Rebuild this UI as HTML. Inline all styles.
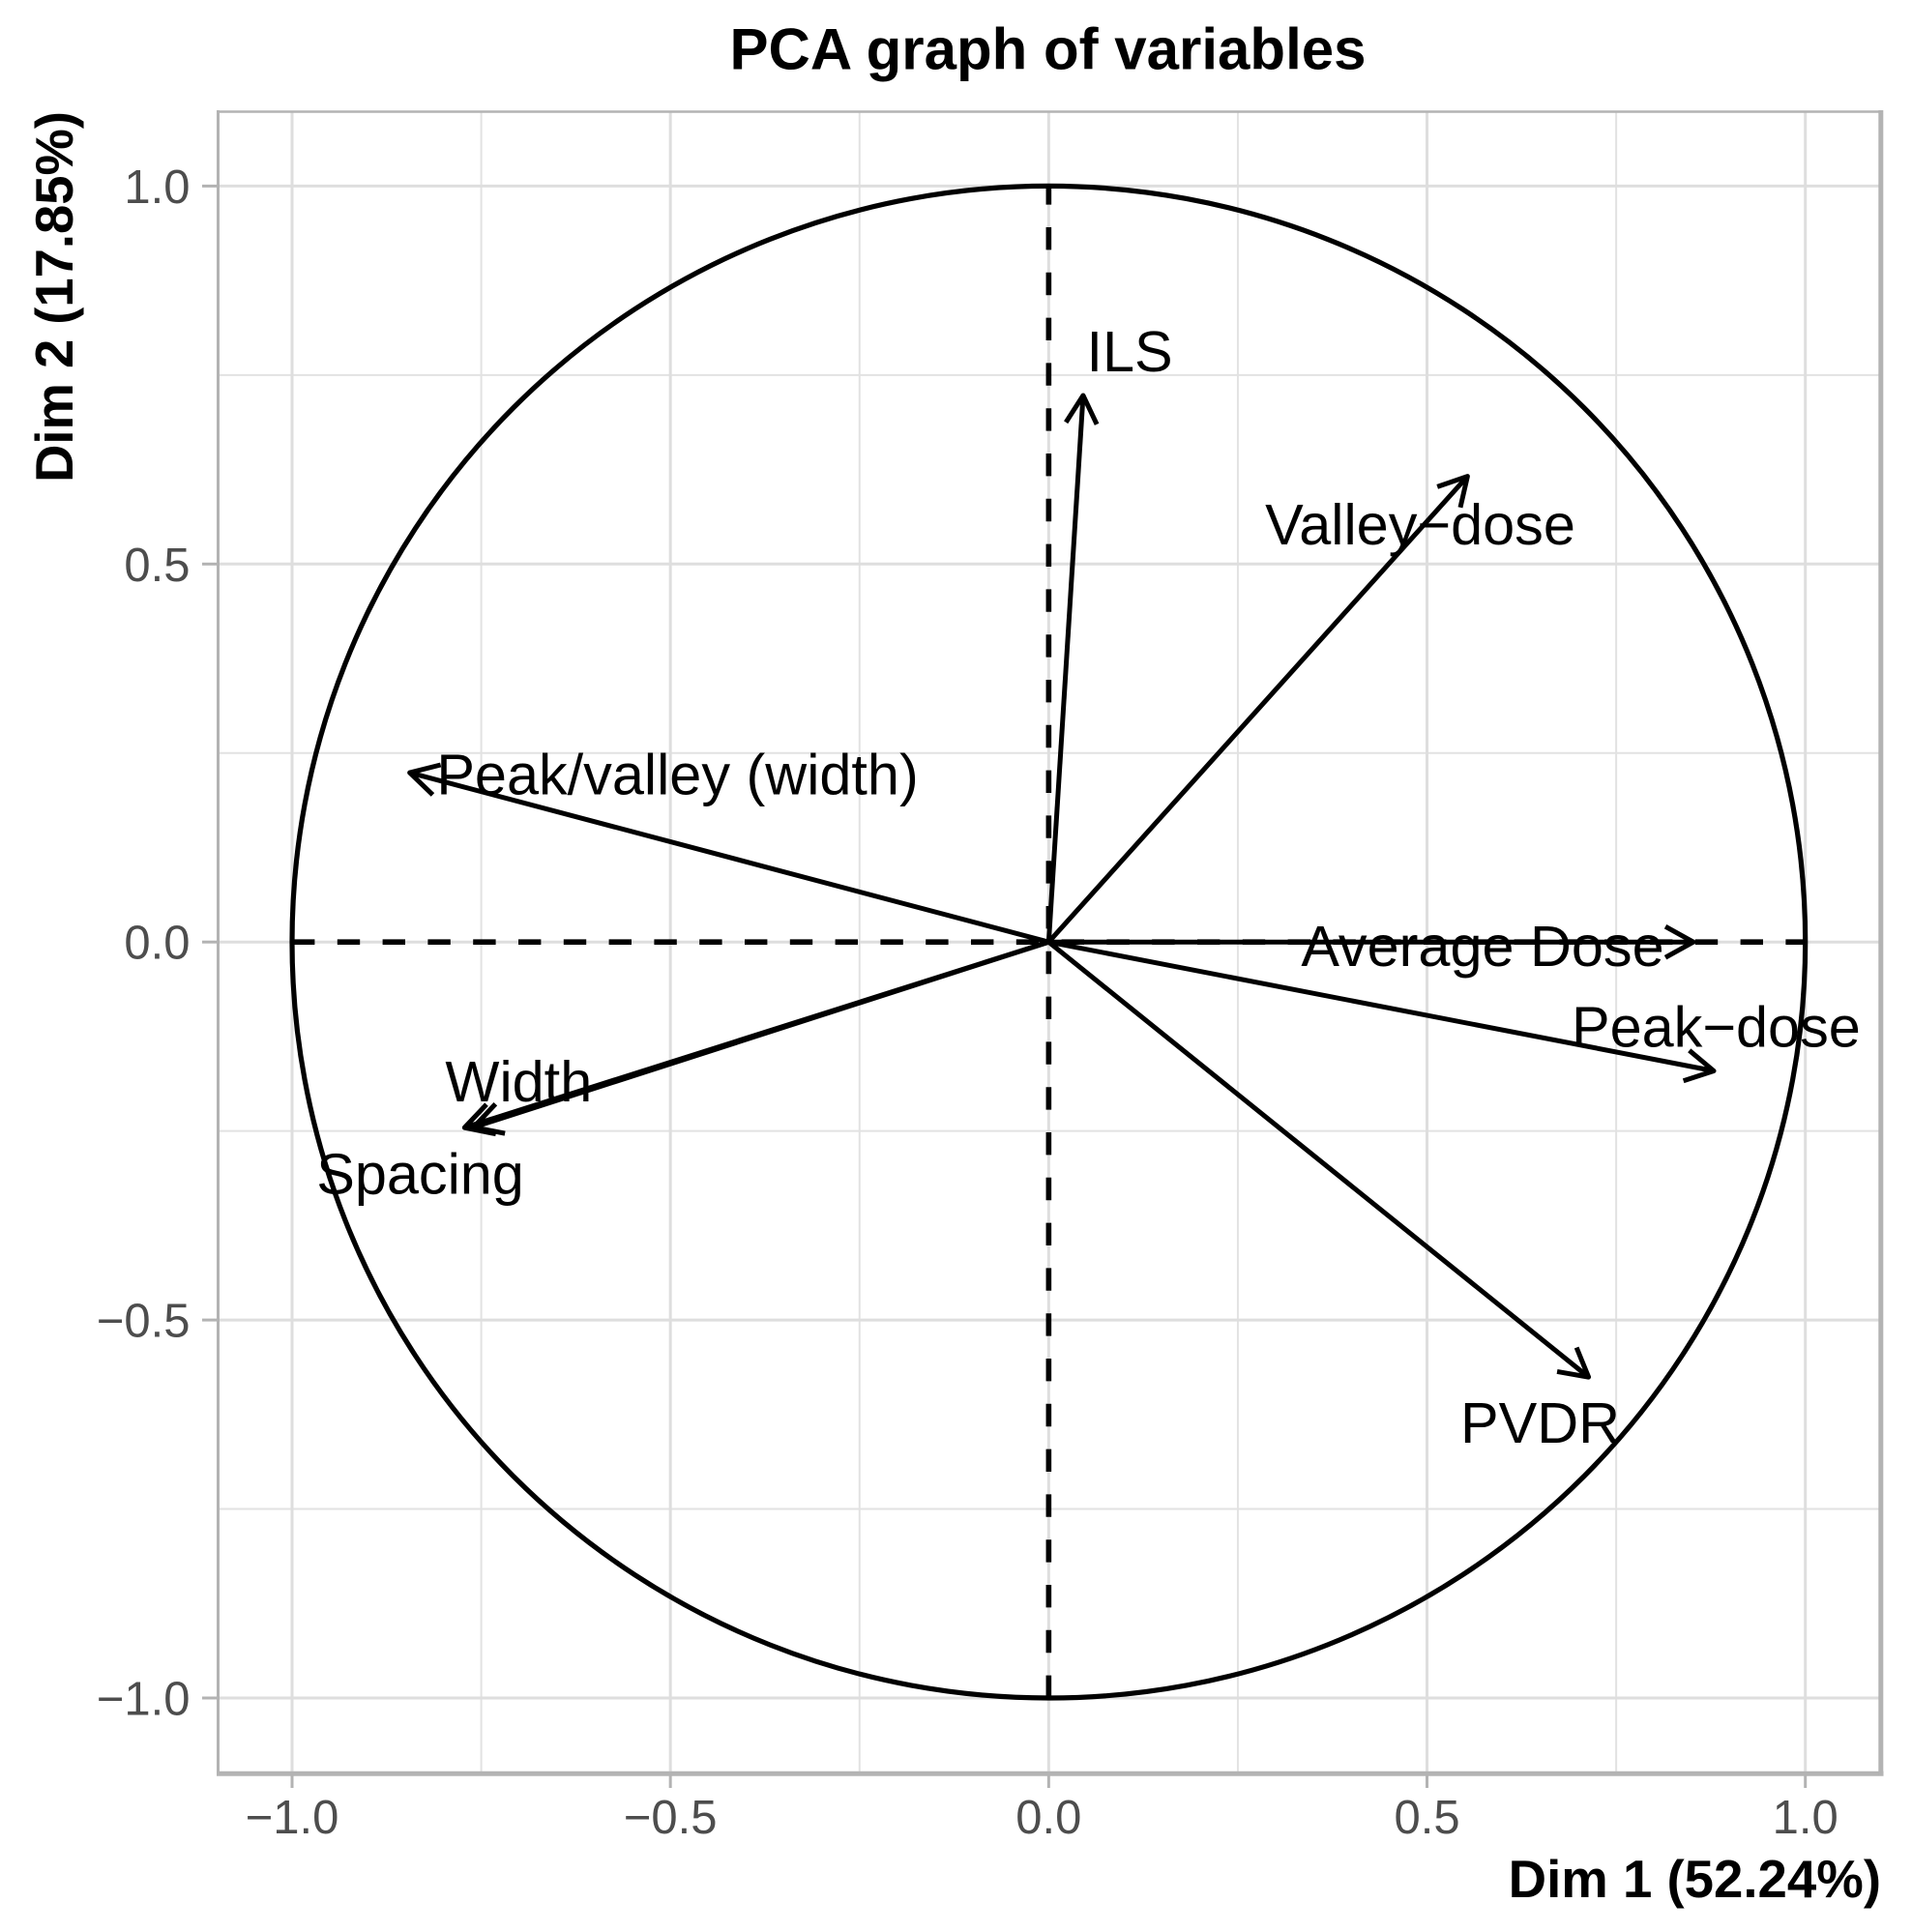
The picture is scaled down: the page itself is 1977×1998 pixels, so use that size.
<!DOCTYPE html>
<html lang="en">
<head>
<meta charset="utf-8">
<title>PCA graph of variables</title>
<style>
html,body{margin:0;padding:0;background:#fff;}
svg{display:block;font-family:"Liberation Sans",Arial,sans-serif;}
</style>
</head>
<body>
<svg id="chart" xmlns="http://www.w3.org/2000/svg" width="1977" height="1998" viewBox="0 0 1977 1998">
  <rect width="1977" height="1998" fill="#ffffff"/>
  <defs><clipPath id="panel-clip"><rect x="225" y="115" width="1720" height="1719"/></clipPath></defs>
  <g id="grid-minor" clip-path="url(#panel-clip)"></g>
  <g id="grid-major" clip-path="url(#panel-clip)"></g>
  <g id="frame"></g>
  <g id="ticks"></g>
  <g id="marks"></g>
  <g id="labels"></g>
  <text x="1083.5" y="71.5" text-anchor="middle" font-size="60" font-weight="700" fill="#000" textLength="658" lengthAdjust="spacing">PCA graph of variables</text>
  <text x="1945" y="1962" text-anchor="end" font-size="54.6" font-weight="700" fill="#000">Dim 1 (52.24%)</text>
  <text transform="translate(75,115) rotate(-90)" x="0" y="0" text-anchor="end" font-size="54.4" font-weight="700" fill="#000">Dim 2 (17.85%)</text>
</svg>
<script>
const variables = ["ILS", "Valley\u2212dose", "Average Dose", "Peak\u2212dose", "PVDR", "Peak/valley (width)", "Width", "Spacing"];
const dim1Values = [0.0455, 0.5535, 0.852, 0.879, 0.7135, -0.8445, -0.760, -0.772];
const dim2Values = [0.723, 0.616, 0.000, -0.1705, -0.5755, 0.224, -0.245, -0.2455];
const labelDim1 = [0.107, 0.491, 0.5735, 0.882, 0.6496, -0.4906, -0.7005, -0.8306];
const labelDim2 = [0.755, 0.526, -0.032, -0.1385, -0.662, 0.195, -0.211, -0.333];
const majorTicks = [-1, -0.5, 0, 0.5, 1];
const minorTicks = [-0.75, -0.25, 0.25, 0.75];
const tickLabels = ["\u22121.0", "\u22120.5", "0.0", "0.5", "1.0"];

const NS = "http://www.w3.org/2000/svg";
const xScale = v => 1084.35 + 782.35 * v;
const yScale = v => 974.2 - 781.8 * v;
const PANEL = {l: 225.5, r: 1944.5, t: 115.5, b: 1834};

function make(parent, tag, attrs, text) {
  const el = document.createElementNS(NS, tag);
  for (const k in attrs) el.setAttribute(k, attrs[k]);
  if (text !== undefined) el.textContent = text;
  document.getElementById(parent).appendChild(el);
  return el;
}

/* gridlines */
minorTicks.forEach(v => {
  const vl = make("grid-minor", "line", {x1: xScale(v), x2: xScale(v), y1: PANEL.t, y2: PANEL.b, stroke: "#e2e2e2", "stroke-width": 2});
  
  
  const hl = make("grid-minor", "line", {x1: PANEL.l, x2: PANEL.r, y1: yScale(v), y2: yScale(v), stroke: "#e2e2e2", "stroke-width": 2});
  
  
});
majorTicks.forEach(v => {
  const vl = make("grid-major", "line", {x1: xScale(v), x2: xScale(v), y1: PANEL.t, y2: PANEL.b, stroke: "#dedede", "stroke-width": 3});
  
  
  const hl = make("grid-major", "line", {x1: PANEL.l, x2: PANEL.r, y1: yScale(v), y2: yScale(v), stroke: "#dedede", "stroke-width": 3});
  
  
});

/* panel frame */
const frameTop = make("frame", "line", {x1: 224, x2: 1947, y1: 115.5, y2: 115.5, stroke: "#b3b3b3", "stroke-width": 2.5});


const frameLeft = make("frame", "line", {x1: 225.5, x2: 225.5, y1: 114, y2: 1836, stroke: "#b3b3b3", "stroke-width": 3});


const frameBottom = make("frame", "line", {x1: 224, x2: 1947.5, y1: 1834.2, y2: 1834.2, stroke: "#b3b3b3", "stroke-width": 5});


const frameRight = make("frame", "line", {x1: 1944.8, x2: 1944.8, y1: 114, y2: 1836.5, stroke: "#b3b3b3", "stroke-width": 5});



/* ticks and tick labels */
majorTicks.forEach((v, i) => {
  const xt = make("ticks", "line", {x1: xScale(v), x2: xScale(v), y1: 1836, y2: 1849, stroke: "#b3b3b3", "stroke-width": 3});
  
  
  const yt = make("ticks", "line", {x1: 209, x2: 224, y1: yScale(v), y2: yScale(v), stroke: "#b3b3b3", "stroke-width": 3});
  
  
  const xl = make("ticks", "text", {x: xScale(v), y: 1896, "text-anchor": "middle", "font-size": 49, fill: "#4d4d4d"}, tickLabels[i]);
  
  
  const yl = make("ticks", "text", {x: 196.5, y: yScale(v) + 17.5, "text-anchor": "end", "font-size": 49, fill: "#4d4d4d"}, tickLabels[i]);
  
  
});

/* zero reference lines */
const hZero = make("marks", "line", {x1: xScale(-1), x2: xScale(1), y1: yScale(0), y2: yScale(0), stroke: "#000", "stroke-width": 5.6, "stroke-dasharray": "23.4 23.4"});


const vZero = make("marks", "line", {x1: xScale(0), x2: xScale(0), y1: yScale(-1), y2: yScale(1), stroke: "#000", "stroke-width": 5.6, "stroke-dasharray": "23.4 23.4"});



/* unit correlation circle */
const unitCircle = make("marks", "ellipse", {cx: xScale(0), cy: yScale(0), rx: xScale(1) - xScale(0), ry: yScale(0) - yScale(1), fill: "none", stroke: "#000", "stroke-width": 5.2});



/* arrows */
const HEAD_LEN = 33, HEAD_ANGLE = 29 * Math.PI / 180;
variables.forEach((name, i) => {
  const x0 = xScale(0), y0 = yScale(0), x1 = xScale(dim1Values[i]), y1 = yScale(dim2Values[i]);
  const shaft = make("marks", "line", {x1: x0, y1: y0, x2: x1, y2: y1, stroke: "#000", "stroke-width": 5});
  
  
  const a = Math.atan2(y1 - y0, x1 - x0);
  const b1x = x1 - HEAD_LEN * Math.cos(a - HEAD_ANGLE), b1y = y1 - HEAD_LEN * Math.sin(a - HEAD_ANGLE);
  const b2x = x1 - HEAD_LEN * Math.cos(a + HEAD_ANGLE), b2y = y1 - HEAD_LEN * Math.sin(a + HEAD_ANGLE);
  const head = make("marks", "polyline", {points: b1x + "," + b1y + " " + x1 + "," + y1 + " " + b2x + "," + b2y, fill: "none", stroke: "#000", "stroke-width": 5, "stroke-linejoin": "round"});
  
  
  const label = make("labels", "text", {x: xScale(labelDim1[i]), y: yScale(labelDim2[i]), "text-anchor": "middle", "font-size": 59.4, fill: "#000"}, name);
  
  
});
</script>
</body>
</html>
